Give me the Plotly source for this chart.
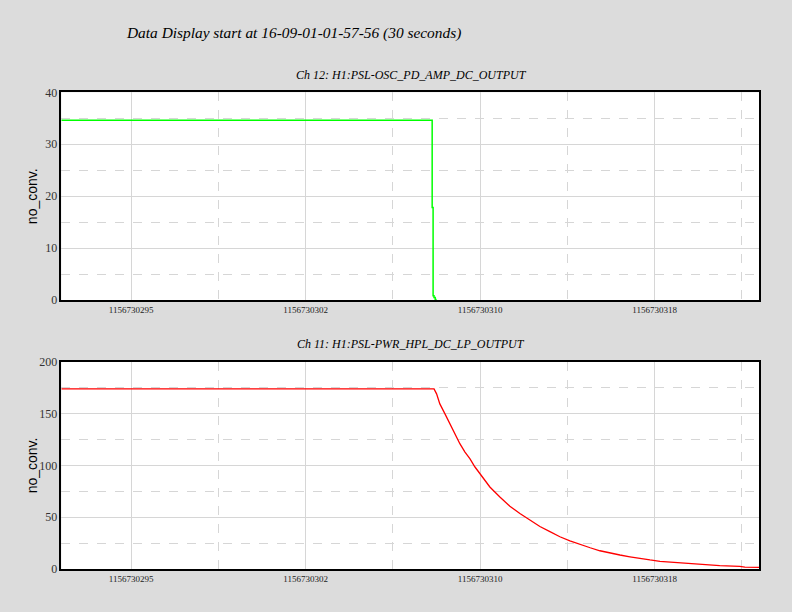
import plotly.graph_objects as go

T0 = 1156730292  # GPS start time (16-09-01-01-57-56)

# Ch 12: H1:PSL-OSC_PD_AMP_DC_OUTPUT  (seconds after T0, value)
ch12_t = [0.0, 15.94, 15.98, 16.02, 16.07, 16.10]
ch12_v = [34.6, 17.8, 0.8, 0.5, 0.1, 0.0]

# Ch 11: H1:PSL-PWR_HPL_DC_LP_OUTPUT
ch11_t = [0.0, 15.96, 16.02, 16.13, 16.27, 16.49, 16.70, 16.92, 17.13, 17.35,
          17.56, 17.78, 17.99, 18.21, 18.42, 18.85, 19.28, 19.71, 20.14, 20.57,
          21.00, 21.43, 21.86, 22.29, 22.73, 23.15, 23.58, 24.01, 24.44, 24.87,
          25.30, 25.73, 26.16, 26.58, 27.44, 28.30, 29.16, 29.38, 30.0]
ch11_v = [173.8, 173.8, 173.7, 169.0, 159.3, 149.7, 140.1, 130.5, 120.9, 112.8,
          106.4, 98.4, 92.0, 85.6, 79.1, 69.5, 60.6, 53.5, 47.2, 41.0,
          36.0, 31.1, 27.2, 23.7, 20.5, 17.6, 15.4, 13.5, 11.8, 9.9,
          8.7, 7.4, 6.6, 5.8, 4.2, 3.2, 2.6, 1.8, 1.6]

x_tickvals = [3.0, 10.5, 18.0, 25.5]
x_ticktext = ["1156730295", "1156730302", "1156730310", "1156730318"]
x_minor = [6.75, 14.25, 21.75, 29.25]

title_text = "Data Display start at 16-09-01-01-57-56 (30 seconds)"
sub1 = "Ch 12: H1:PSL-OSC_PD_AMP_DC_OUTPUT"
sub2 = "Ch 11: H1:PSL-PWR_HPL_DC_LP_OUTPUT"
ylabel = "no_conv."

W, H = 792, 612
xd = [61.3 / W, 759.3 / W]
yd1 = [1 - 300 / H, 1 - 92.3 / H]
yd2 = [1 - 569 / H, 1 - 361.7 / H]

fig = go.Figure()
fig.add_trace(go.Scatter(x=[T0 + t for t in ch12_t], y=ch12_v, mode="lines",
                         line=dict(color="#00ff00", width=1.5, shape="hv"),
                         xaxis="x", yaxis="y", showlegend=False))
fig.add_trace(go.Scatter(x=[T0 + t for t in ch11_t], y=ch11_v, mode="lines",
                         line=dict(color="#ff0000", width=1.3),
                         xaxis="x2", yaxis="y2", showlegend=False))

grid = "#d6d6d6"
def xaxis(anchor):
    return dict(domain=xd, anchor=anchor, range=[T0, T0 + 30],
                tickmode="array", tickvals=[T0 + v for v in x_tickvals], ticktext=x_ticktext,
                ticks="", showgrid=True, gridcolor=grid, gridwidth=1,
                minor=dict(tickmode="array", tickvals=[T0 + v for v in x_minor],
                           showgrid=True, gridcolor=grid, griddash="dash", gridwidth=1, ticks=""),
                showline=True, linecolor="black", linewidth=1.5, mirror=True,
                zeroline=False, automargin=False,
                tickfont=dict(family="Liberation Serif", size=9, color="#222"))

def yaxis(anchor, dom, top, step):
    return dict(domain=dom, anchor=anchor, range=[0, top],
                tickmode="linear", tick0=0, dtick=step,
                ticks="", showgrid=True, gridcolor=grid, gridwidth=1,
                minor=dict(tickmode="linear", tick0=step / 2, dtick=step,
                           showgrid=True, gridcolor=grid, griddash="dash", gridwidth=1, ticks=""),
                showline=True, linecolor="black", linewidth=1.5, mirror=True,
                zeroline=False, automargin=False,
                tickfont=dict(family="Liberation Serif", size=12, color="#333"))

fig.update_layout(
    width=W, height=H,
    margin=dict(l=0, r=0, t=0, b=0),
    paper_bgcolor="#dcdcdc", plot_bgcolor="white",
    xaxis=xaxis("y"), yaxis=yaxis("x", yd1, 40, 10),
    xaxis2=xaxis("y2"), yaxis2=yaxis("x2", yd2, 200, 50),
    showlegend=False,
)

ann_common = dict(xref="paper", yref="paper", showarrow=False)
fig.add_annotation(text="<i>" + title_text + "</i>", x=124 / W, y=1 - 33 / H,
                   xanchor="left", yanchor="middle",
                   font=dict(family="Liberation Serif", size=15.4, color="black"), **ann_common)
fig.add_annotation(text="<i>" + sub1 + "</i>", x=411 / W, y=1 - 75 / H, xanchor="center", yanchor="middle",
                   font=dict(family="Liberation Serif", size=12, color="black"), **ann_common)
fig.add_annotation(text="<i>" + sub2 + "</i>", x=411 / W, y=1 - 344 / H, xanchor="center", yanchor="middle",
                   font=dict(family="Liberation Serif", size=12, color="black"), **ann_common)
for yc in [(92.3 + 300) / 2, (361.7 + 569) / 2]:
    fig.add_annotation(text=ylabel, x=32 / W, y=1 - yc / H, xanchor="center", yanchor="middle",
                       textangle=-90, font=dict(family="Liberation Sans", size=14, color="black"),
                       **ann_common)

fig.write_html("out.html", config={"displayModeBar": False},
               post_script="document.body.style.margin='0';document.body.style.overflow='hidden';")
